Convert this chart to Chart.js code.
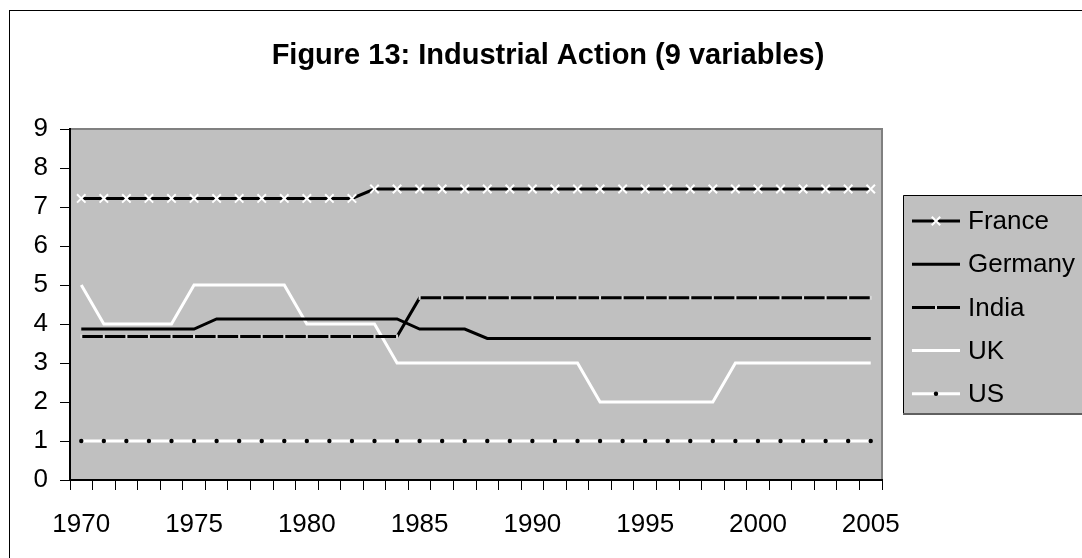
<!DOCTYPE html>
<html>
<head>
<meta charset="utf-8">
<script src="https://cdn.jsdelivr.net/npm/chart.js@4.4.1/dist/chart.umd.min.js"></script>
<style>
  body { margin: 0; background: #fff; }
  #wrap { width: 1082px; height: 558px; }
</style>
</head>
<body>
<div id="wrap"><canvas id="chart" width="1082" height="558"></canvas></div>
<script>
// Data
const years = ['1970','1971','1972','1973','1974','1975','1976','1977','1978','1979',
               '1980','1981','1982','1983','1984','1985','1986','1987','1988','1989',
               '1990','1991','1992','1993','1994','1995','1996','1997','1998','1999',
               '2000','2001','2002','2003','2004','2005'];
const france  = [7.22,7.22,7.22,7.22,7.22,7.22,7.22,7.22,7.22,7.22,7.22,7.22,7.22,7.46,7.46,7.46,7.46,7.46,
                 7.46,7.46,7.46,7.46,7.46,7.46,7.46,7.46,7.46,7.46,7.46,7.46,7.46,7.46,7.46,7.46,7.46,7.46];
const germany = [3.87,3.87,3.87,3.87,3.87,3.87,4.13,4.13,4.13,4.13,4.13,4.13,4.13,4.13,4.13,3.87,3.87,3.87,
                 3.63,3.63,3.63,3.63,3.63,3.63,3.63,3.63,3.63,3.63,3.63,3.63,3.63,3.63,3.63,3.63,3.63,3.63];
const india   = [3.68,3.68,3.68,3.68,3.68,3.68,3.68,3.68,3.68,3.68,3.68,3.68,3.68,3.68,3.68,4.67,4.67,4.67,
                 4.67,4.67,4.67,4.67,4.67,4.67,4.67,4.67,4.67,4.67,4.67,4.67,4.67,4.67,4.67,4.67,4.67,4.67];
const uk      = [5,4,4,4,4,5,5,5,5,5,4,4,4,4,3,3,3,3,
                 3,3,3,3,3,2,2,2,2,2,2,3,3,3,3,3,3,3];
const us      = [1,1,1,1,1,1,1,1,1,1,1,1,1,1,1,1,1,1,
                 1,1,1,1,1,1,1,1,1,1,1,1,1,1,1,1,1,1];
const titleText = 'Figure 13: Industrial Action (9 variables)';

const FONT = "'Liberation Sans', Arial, sans-serif";

// Background, frame, title and legend box
const decorations = {
    id: 'decorations',
    beforeDraw(chart) {
        const { ctx, chartArea: a } = chart;
        ctx.save();
        ctx.fillStyle = '#fff';
        ctx.fillRect(0, 0, chart.width, chart.height);
        // outer frame (only left and top are visible)
        ctx.strokeStyle = '#000';
        ctx.lineWidth = 1;
        ctx.strokeRect(9.5, 10.5, 1200, 700);
        // plot area
        ctx.fillStyle = '#c0c0c0';
        ctx.fillRect(a.left, a.top, a.right - a.left, a.bottom - a.top);
        ctx.strokeStyle = '#808080';
        ctx.lineWidth = 2;
        ctx.beginPath();
        ctx.moveTo(a.left, a.top);
        ctx.lineTo(a.right, a.top);
        ctx.lineTo(a.right, a.bottom);
        ctx.stroke();
        ctx.restore();
    },
    afterDraw(chart) {
        const { ctx } = chart;
        ctx.save();
        // title
        ctx.fillStyle = '#000';
        ctx.font = 'bold 29px ' + FONT;
        ctx.textAlign = 'center';
        ctx.textBaseline = 'alphabetic';
        ctx.fillText(titleText, 548, 64);

        // legend
        const lx = 903, ly = 195, lw = 200, lh = 219;
        ctx.fillStyle = '#c0c0c0';
        ctx.fillRect(lx, ly, lw, lh);
        ctx.strokeStyle = '#000';
        ctx.lineWidth = 1;
        ctx.beginPath();
        ctx.moveTo(lx + 0.5, ly + lh);
        ctx.lineTo(lx + 0.5, ly + 0.5);
        ctx.lineTo(lx + lw, ly + 0.5);
        ctx.stroke();
        ctx.strokeStyle = '#606060';
        ctx.lineWidth = 2;
        ctx.beginPath();
        ctx.moveTo(lx, ly + lh);
        ctx.lineTo(lx + lw, ly + lh);
        ctx.stroke();

        chart.data.datasets.forEach((ds, i) => {
            const y = 221 + i * 43.2;
            ctx.strokeStyle = ds.borderColor;
            ctx.lineWidth = ds.borderWidth;
            ctx.setLineDash([]);
            ctx.beginPath();
            ctx.moveTo(912, y);
            ctx.lineTo(960, y);
            ctx.stroke();
            const cx = 936;
            if (ds.pointStyle === 'crossRot') {
                const r = ds.pointRadius * 0.7;
                ctx.strokeStyle = ds.pointBorderColor;
                ctx.lineWidth = ds.pointBorderWidth;
                ctx.beginPath();
                ctx.moveTo(cx - r, y - r); ctx.lineTo(cx + r, y + r);
                ctx.moveTo(cx - r, y + r); ctx.lineTo(cx + r, y - r);
                ctx.stroke();
            } else if (ds.pointStyle === 'circle' && ds.pointRadius > 0) {
                ctx.fillStyle = ds.pointBackgroundColor;
                ctx.beginPath();
                ctx.arc(cx, y, ds.pointRadius, 0, Math.PI * 2);
                ctx.fill();
            } else if (ds.pointStyle === 'line' && ds.pointRadius > 0) {
                ctx.strokeStyle = ds.pointBorderColor;
                ctx.lineWidth = ds.pointBorderWidth;
                ctx.beginPath();
                ctx.moveTo(cx, y - ds.pointRadius); ctx.lineTo(cx, y + ds.pointRadius);
                ctx.stroke();
            }
            ctx.fillStyle = '#000';
            ctx.font = '26px ' + FONT;
            ctx.textAlign = 'left';
            ctx.textBaseline = 'middle';
            ctx.fillText(ds.label, 968, y + 1);
        });
        ctx.restore();
    }
};

const ctx = document.getElementById('chart').getContext('2d');
new Chart(ctx, {
    type: 'line',
    data: {
        labels: years,
        datasets: [
            { label: 'France', data: france, borderColor: '#000', borderWidth: 3,
              pointStyle: 'crossRot', pointRadius: 6, pointBorderColor: '#fff', pointBorderWidth: 2,
              pointBackgroundColor: '#fff' },
            { label: 'Germany', data: germany, borderColor: '#000', borderWidth: 3,
              pointStyle: 'circle', pointRadius: 0 },
            { label: 'India', data: india, borderColor: '#000', borderWidth: 3,
              pointStyle: 'line', rotation: 90, pointRadius: 2, pointBorderColor: '#d8d8d8',
              pointBorderWidth: 2, pointBackgroundColor: '#d8d8d8' },
            { label: 'UK', data: uk, borderColor: '#fff', borderWidth: 3,
              pointStyle: 'circle', pointRadius: 0 },
            { label: 'US', data: us, borderColor: '#fff', borderWidth: 3,
              pointStyle: 'circle', pointRadius: 2.2, pointBackgroundColor: '#000',
              pointBorderColor: '#000', pointBorderWidth: 0 }
        ]
    },
    options: {
        responsive: false,
        animation: false,
        events: [],
        layout: { padding: { top: 129, right: 200, bottom: 0, left: 0 } },
        elements: { line: { tension: 0 } },
        plugins: {
            legend: { display: false },
            title: { display: false },
            tooltip: { enabled: false }
        },
        scales: {
            x: {
                type: 'category',
                offset: true,
                grid: { offset: true, drawOnChartArea: false, drawTicks: true, tickLength: 10,
                        color: '#000', lineWidth: 1 },
                border: { color: '#000', width: 2 },
                ticks: {
                    autoSkip: false, maxRotation: 0, minRotation: 0, padding: 19,
                    color: '#000', font: { family: FONT, size: 26 },
                    callback: function (value) {
                        const lab = this.getLabelForValue(value);
                        return Number(lab) % 5 === 0 ? lab : '';
                    }
                },
                afterFit(scale) { scale.height = 78; }
            },
            y: {
                min: 0, max: 9,
                grid: { drawOnChartArea: false, drawTicks: true, tickLength: 10, color: '#000' },
                border: { color: '#000', width: 2 },
                ticks: { stepSize: 1, padding: 12, color: '#000', font: { family: FONT, size: 26 } },
                afterFit(scale) { scale.width = 70; }
            }
        }
    },
    plugins: [decorations]
});
</script>
</body>
</html>
